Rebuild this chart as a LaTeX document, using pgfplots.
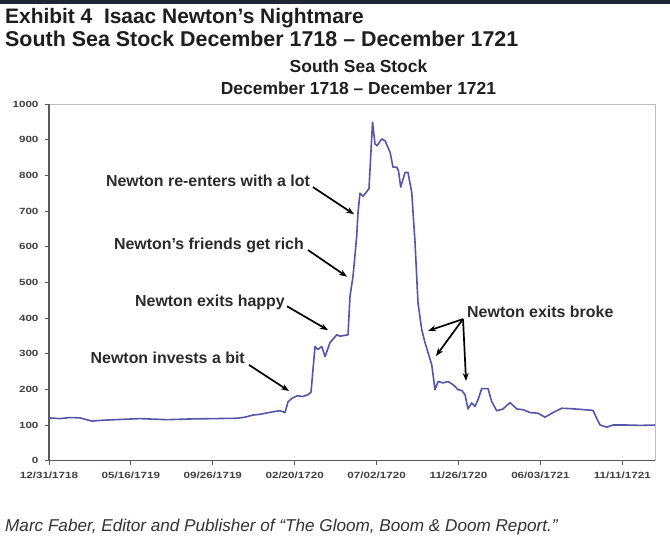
\documentclass[border=0pt]{standalone}
\usepackage{fontspec}
\setmainfont{Liberation Sans}
\newfontfamily\tickfont[FakeStretch=1.3]{Liberation Sans}
\usepackage{pgfplots}
\usepackage{pgfplotstable}
\pgfplotsset{compat=1.18}
\usetikzlibrary{arrows.meta}
\definecolor{linecol}{HTML}{5656A8}
\definecolor{titlecol}{HTML}{1E1E1E}
\definecolor{anncol}{HTML}{2B2B2B}
\definecolor{tickcol}{HTML}{404040}
\definecolor{axiscol}{HTML}{5A5A5A}
\definecolor{framecol}{HTML}{BDBDBD}
\definecolor{topband}{HTML}{1F2638}
\definecolor{capcol}{HTML}{333333}

\pgfplotstableread{
x value
0.000 120
0.134 118
0.256 121
0.379 120
0.525 111
0.623 113
0.806 115
1.111 118
1.441 115
1.722 117
2.027 118
2.295 119
2.393 122
2.491 128
2.576 130
2.662 134
2.759 138
2.821 140
2.882 135
2.918 165
2.967 175
3.028 182
3.101 180
3.162 185
3.199 192
3.248 320
3.284 312
3.330 320
3.370 292
3.431 331
3.513 353
3.553 349
3.651 353
3.675 461
3.712 517
3.757 630
3.773 696
3.797 750
3.834 741
3.871 752
3.907 763
3.950 949
3.980 888
4.005 883
4.062 902
4.103 897
4.164 865
4.200 823
4.245 823
4.267 813
4.294 767
4.347 808
4.383 808
4.429 752
4.469 612
4.505 443
4.551 367
4.591 331
4.673 269
4.713 199
4.750 222
4.811 218
4.872 222
4.921 215
4.957 208
4.994 199
5.039 197
5.079 185
5.116 145
5.161 162
5.201 152
5.238 171
5.283 202
5.360 202
5.405 166
5.466 140
5.543 145
5.629 163
5.711 145
5.788 143
5.873 135
5.971 133
6.056 122
6.154 135
6.260 147
6.361 146
6.484 144
6.642 141
6.687 119
6.728 100
6.810 94
6.886 100
7.054 100
7.216 99
7.399 100
}\southsea

\begin{document}
\begin{tikzpicture}
\useasboundingbox (0bp,0bp) rectangle (670bp,537bp);
\fill[white] (0bp,0bp) rectangle (670bp,537bp);
\fill[topband] (0bp,533bp) rectangle (670bp,537bp);

\node[anchor=base west, inner sep=0pt, text=titlecol,
      font=\bfseries\fontsize{21}{25}\selectfont] at (5bp,513bp)
      {Exhibit 4\ \ Isaac Newton’s Nightmare};
\node[anchor=base west, inner sep=0pt, text=titlecol,
      font=\bfseries\fontsize{21.5}{25}\selectfont] at (5bp,490bp)
      {South Sea Stock December 1718 – December 1721};
\node[anchor=base, inner sep=0pt, text=titlecol,
      font=\bfseries\fontsize{17.5}{21}\selectfont] at (358.5bp,464.3bp)
      {South Sea Stock};
\node[anchor=base, inner sep=0pt, text=titlecol,
      font=\bfseries\fontsize{17.5}{21}\selectfont] at (358.5bp,442bp)
      {December 1718 – December 1721};
\node[anchor=base west, inner sep=0pt, text=capcol,
      font=\itshape\fontsize{17.2}{21}\selectfont] at (5bp,6bp)
      {Marc Faber, Editor and Publisher of “The Gloom, Boom \& Doom Report.”};

\begin{axis}[
  at={(49bp,76.3bp)}, anchor=south west,
  scale only axis, width=606bp, height=356.7bp,
  xmin=0, xmax=7.399, ymin=0, ymax=1000,
  clip=false,
  axis line style={draw=framecol, line width=0.8bp},
  tick pos=left, tick align=outside,
  major tick length=4bp,
  tick style={draw=axiscol, line width=0.9bp},
  xtick={0,1,2,3,4,5,6,7},
  xticklabels={12/31/1718,05/16/1719,09/26/1719,02/20/1720,07/02/1720,11/26/1720,06/03/1721,11/11/1721},
  ytick={0,100,200,300,400,500,600,700,800,900,1000},
  yticklabels={0,100,200,300,400,500,600,700,800,900,1000},
  ticklabel style={font=\tickfont\bfseries\fontsize{9}{10}\selectfont, text=tickcol},
  xticklabel style={yshift=-3.5bp},
  yticklabel style={xshift=-3bp},
]
\addplot[linecol, line width=1.6bp, line join=round, no markers] table[x=x, y=value] {\southsea};

\draw[axiscol, line width=1.1bp] (rel axis cs:0,1) -- (rel axis cs:0,0) -- (rel axis cs:1,0);

\begin{scope}[every node/.style={inner sep=0pt, text=anncol, font=\bfseries\fontsize{16}{19}\selectfont}]
\node[anchor=base east] at (axis cs:3.187,768.7) {Newton re-enters with a lot};
\node[anchor=base east] at (axis cs:3.114,591.3) {Newton’s friends get rich};
\node[anchor=base east] at (axis cs:2.882,432.3) {Newton exits happy};
\node[anchor=base east] at (axis cs:2.393,271.7) {Newton invests a bit};
\node[anchor=base west] at (axis cs:5.104,400.6) {Newton exits broke};
\end{scope}

\begin{scope}[black, line width=1.7bp, -{Stealth[length=8bp,width=6bp]}]
\draw (axis cs:3.223,767) -- (axis cs:3.724,691);
\draw (axis cs:3.162,590.7) -- (axis cs:3.639,515.7);
\draw (axis cs:2.906,433) -- (axis cs:3.407,366);
\draw (axis cs:2.442,268.5) -- (axis cs:2.930,195.4);
\draw (axis cs:5.055,397) -- (axis cs:4.628,364);
\draw (axis cs:5.055,397) -- (axis cs:4.725,293.5);
\draw (axis cs:5.055,397) -- (axis cs:5.092,223.4);
\end{scope}
\end{axis}
\end{tikzpicture}
\end{document}
